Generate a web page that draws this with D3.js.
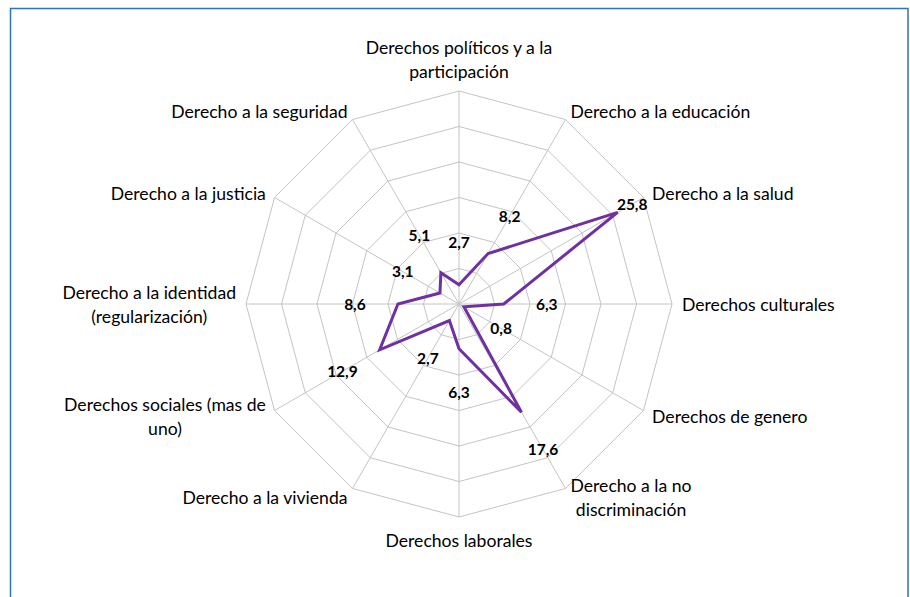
<!DOCTYPE html>
<html>
<head>
<meta charset="utf-8">
<script src="https://cdn.jsdelivr.net/npm/d3@7"></script>
<style>
  body { margin: 0; background: #fff; }
  svg { display: block; }
</style>
</head>
<body>
<svg id="chart" width="910" height="597"></svg>
<script>
// categories, clockwise from the top ("\n" = line break as in the original)
const categories = [
  "Derechos políticos y a la\nparticipación",
  "Derecho a la educación",
  "Derecho a la salud",
  "Derechos culturales",
  "Derechos de genero",
  "Derecho a la no\ndiscriminación",
  "Derechos laborales",
  "Derecho a la vivienda",
  "Derechos sociales (mas de\nuno)",
  "Derecho a la identidad\n(regularización)",
  "Derecho a la justicia",
  "Derecho a la seguridad"
];
const values = [2.7, 8.2, 25.8, 6.3, 0.8, 17.6, 6.3, 2.7, 12.9, 8.6, 3.1, 5.1];
const gridTicks = [5, 10, 15, 20, 25, 30];

const svg = d3.select('#chart');
const W = 910, H = 597;
const cx = 459, cy = 304, R = 213;
const FONT = 'Lato, "Open Sans", sans-serif';
const fmt = v => d3.format('.1f')(v).replace('.', ',');

// frame (bottom edge runs off the picture)
svg.append('rect')
  .attr('x', 10.5).attr('y', 8.5).attr('width', 897.5).attr('height', H)
  .style('fill', 'none').style('stroke', '#2e75b6').style('stroke-width', 1.5);

const r = d3.scaleLinear().domain([0, 30]).range([0, R]);
const angle = d3.scaleLinear().domain([0, categories.length]).range([0, 2 * Math.PI]);
const pt = (i, v) => [cx + r(v) * Math.sin(angle(i)), cy - r(v) * Math.cos(angle(i))];

const g = svg.append('g');

// rings
gridTicks.forEach(t => {
  g.append('path')
    .attr('d', d3.line()(categories.map((c, i) => pt(i, t))) + 'Z')
    .style('fill', 'none').style('stroke', '#c4c4c4').style('stroke-width', 1);
});

// spokes
categories.forEach((c, i) => {
  const p = pt(i, 30);
  g.append('line')
    .attr('x1', cx).attr('y1', cy).attr('x2', p[0]).attr('y2', p[1])
    .style('stroke', '#c4c4c4').style('stroke-width', 1);
});

// series
g.append('path')
  .attr('d', d3.line()(values.map((v, i) => pt(i, v))) + 'Z')
  .style('fill', 'none').style('stroke', '#7030a0').style('stroke-width', 3)
  .style('stroke-linejoin', 'miter');

// data labels: 43px outside the point, kept inside the plot
values.forEach((v, i) => {
  const d = Math.min(r(v) + 43, R - 13);
  const a = angle(i);
  g.append('text')
    .attr('x', cx + d * Math.sin(a)).attr('y', cy - d * Math.cos(a))
    .attr('text-anchor', 'middle').attr('dominant-baseline', 'central')
    .style('font-family', FONT)
    .style('font-weight', 'bold').style('font-size', '15.5px').style('fill', '#000')
    .text(fmt(v));
});

// category labels
const lineH = 24, fs = '17.6px';
categories.forEach((c, i) => {
  const a = angle(i);
  const s = Math.sin(a), co = Math.cos(a);
  const ax = cx + (R + 10) * s, ay = cy - (R + 10) * co;
  const lines = c.split('\n');
  const n = lines.length;
  let side = 'middle', y0;
  if (s > 0.1) side = 'start';
  else if (s < -0.1) side = 'end';
  if (Math.abs(s) > 0.1) y0 = ay - (n - 1) * lineH / 2;
  else if (co > 0) y0 = ay - 10 - (n - 1) * lineH;
  else y0 = ay + 13;

  // multi-line blocks are centred on their own width
  const tmp = svg.append('text').style('font-family', FONT).style('font-size', fs);
  const widths = lines.map(l => { tmp.text(l); return tmp.node().getComputedTextLength(); });
  tmp.remove();
  const bw = d3.max(widths);
  let mid = ax;
  if (side === 'start') mid = ax + bw / 2;
  else if (side === 'end') mid = ax - bw / 2;

  const t = g.append('text')
    .attr('text-anchor', 'middle').attr('dominant-baseline', 'central')
    .style('font-family', FONT).style('font-size', fs).style('fill', '#000');
  lines.forEach((l, k) => {
    t.append('tspan').attr('x', mid).attr('y', y0 + k * lineH).text(l);
  });
});
</script>
</body>
</html>
